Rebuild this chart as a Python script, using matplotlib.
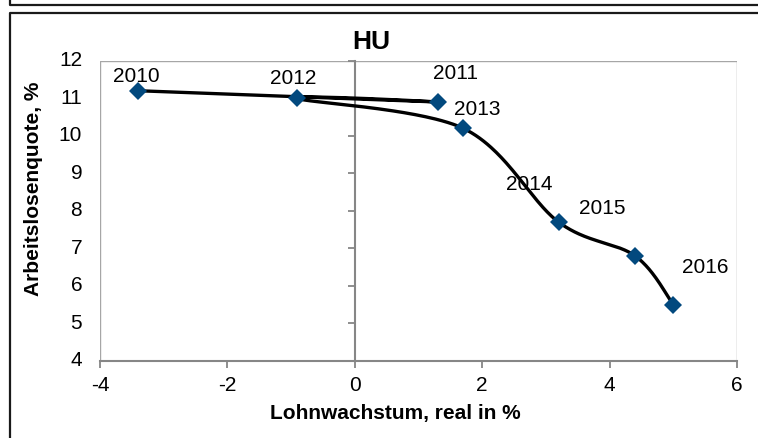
import numpy as np
import matplotlib
matplotlib.use("Agg")
import matplotlib.pyplot as plt
from matplotlib.lines import Line2D
from matplotlib.patches import Rectangle
import matplotlib.transforms as mtransforms

plt.rcParams['font.family'] = ['Liberation Sans', 'DejaVu Sans']

# ---- data ----
years = ["2010", "2011", "2012", "2013", "2014", "2015", "2016"]
wage_growth = [-3.4, 1.3, -0.9, 1.7, 3.2, 4.4, 5.0]
unemployment = [11.2, 10.9, 11.0, 10.2, 7.7, 6.8, 5.5]
label_offsets_px = [(-2, 14), (18, 28), (-4, 20), (14, 19), (-29, 38), (-33, 47), (32, 37)]
xticks = [-4, -2, 0, 2, 4, 6]
yticks = [4, 5, 6, 7, 8, 9, 10, 11, 12]

W, H = 758, 438
fig = plt.figure(figsize=(W / 100, H / 100), dpi=100)
fig.patch.set_facecolor('white')

# axes placement in pixels
L, R, T, B = 100, 737, 60.7, 361
ax = fig.add_axes([L / W, (H - B) / H, (R - L) / W, (B - T) / H])
ax.set_xlim(-4, 6)
ax.set_ylim(4, 12)

axis_col = '#868686'
frame_col = '#A6A6A6'

for s in ['top', 'right']:
    ax.spines[s].set_visible(False)
ax.spines['left'].set_position(('data', 0))
ax.spines['left'].set_color(axis_col)
ax.spines['left'].set_linewidth(1.5)
ax.spines['bottom'].set_color(axis_col)
ax.spines['bottom'].set_linewidth(1.5)
ax.add_patch(Rectangle((0, 0), 1, 1, transform=ax.transAxes, fill=False,
                       edgecolor=frame_col, linewidth=1.0, zorder=0.5))

ax.set_xticks(xticks)
ax.set_xticklabels([str(t) for t in xticks])
ax.set_yticks(yticks)
ax.tick_params(axis='x', direction='out', length=5, width=1.3, color=axis_col,
               labelsize=15, pad=6)
ax.tick_params(axis='y', direction='out', length=5, width=1.3, color=axis_col,
               labelleft=False)
ytr = mtransforms.blended_transform_factory(ax.transAxes, ax.transData)
for t in yticks:
    ax.text(-0.028, t, str(t), transform=ytr, ha='right', va='center', fontsize=15)

# ---- smoothed line (Bezier / Catmull-Rom style like spreadsheet smoothing) ----
pts = ax.transData.transform(np.column_stack([wage_growth, unemployment]))
n = len(pts)
curve = []
for i in range(n - 1):
    p0 = pts[i - 1] if i > 0 else pts[i]
    p1 = pts[i]
    p2 = pts[i + 1]
    p3 = pts[i + 2] if i + 2 < n else pts[i + 1]
    c1 = p1 + (p2 - p0) / 6.0
    c2 = p2 - (p3 - p1) / 6.0
    tt = np.linspace(0, 1, 60)[:, None]
    seg = ((1 - tt) ** 3) * p1 + 3 * ((1 - tt) ** 2) * tt * c1 + 3 * (1 - tt) * tt ** 2 * c2 + tt ** 3 * p2
    curve.append(seg if i == 0 else seg[1:])
curve = np.vstack(curve)
curve_data = ax.transData.inverted().transform(curve)
ax.plot(curve_data[:, 0], curve_data[:, 1], color='black', linewidth=2.4,
        solid_capstyle='round', zorder=3)
ax.plot(wage_growth, unemployment, linestyle='none', marker='D', markersize=8.8,
        color='#02497E', markeredgewidth=0, zorder=4)

for yr, x, y, (dx, dy) in zip(years, wage_growth, unemployment, label_offsets_px):
    ax.annotate(yr, (x, y), xytext=(dx, dy), textcoords='offset pixels',
                ha='center', va='center', fontsize=15, zorder=5)

# ---- titles ----
fig.text(371 / W, 1 - 42 / H, "HU", ha='center', va='center', fontsize=19,
         fontweight='bold')
fig.text(395 / W, 1 - 413 / H, "Lohnwachstum, real in %", ha='center', va='center',
         fontsize=15, fontweight='bold')
fig.text(34 / W, 1 - 189 / H, "Arbeitslosenquote, %", ha='center', va='center',
         fontsize=15, fontweight='bold', rotation=90)

# ---- outer chart frames ----
def px_line(xs, ys, lw=1.6, col='#1a1a1a'):
    fig.add_artist(Line2D([x / W for x in xs], [1 - y / H for y in ys],
                          transform=fig.transFigure, color=col, linewidth=lw))

px_line([9.5, 9.5, W + 5], [-5, 4.5, 4.5])
px_line([W + 5, 9.5, 9.5], [13, 13, H + 5])

fig.savefig("out.png", dpi=100, facecolor='white')
